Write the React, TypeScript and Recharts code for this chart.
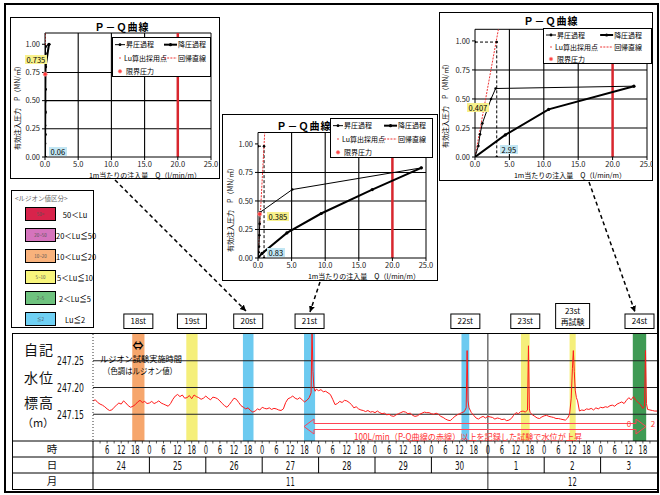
import React from "react";
import {
  LineChart, Line, XAxis, YAxis, ReferenceLine, ReferenceArea, ReferenceDot
} from "recharts";

const JP = '"Noto Sans CJK JP", "Noto Sans", sans-serif';
const NARROW = '"Liberation Sans Narrow", "DejaVu Sans Condensed", "Liberation Sans", sans-serif';

// ---- P-Q curves : [Q (l/min/m), P (MN/m2)] ----
const qTicks = [0, 5, 10, 15, 20, 25];
const pTicks = [0, 0.25, 0.5, 0.75, 1.0];

const st20Up = [[0, 0], [0.01, 0.12], [0.02, 0.2], [0.02, 0.28], [0.03, 0.39], [0.03, 0.49], [0.04, 0.6], [0.05, 0.8], [0.06, 0.92], [0.1, 0.98], [0.6, 1.0]];
const st20Down = [[0.6, 1.0], [0.08, 0.8], [0.05, 0.6], [0.04, 0.4], [0.02, 0.2], [0, 0]];
const st20Lu = [[0, 0.98], [0.06, 0.98], [0.06, 0]];
const st20Reg = [[0, 0], [0.07, 1.1]];
const st20Limit = [0.03, 0.735];

const st21Up = [[0, 0], [0.1, 0.05], [0.15, 0.1], [0.2, 0.2], [0.25, 0.3], [0.3, 0.4], [5.1, 0.6], [24.3, 0.79]];
const st21Down = [[24.3, 0.79], [17.0, 0.6], [9.4, 0.39], [4.3, 0.22], [0.6, 0.04], [0, 0]];
const st21Lu = [[0, 0.98], [0.9, 0.98], [0.9, 0]];
const st21Reg = [[0, 0], [1.0, 1.1]];
const st21Limit = [0.25, 0.385];

const st24Up = [[0, 0], [0.49, 0.095], [0.73, 0.195], [1.07, 0.29], [2.33, 0.5], [3.0, 0.59], [23.1, 0.61]];
const st24Down = [[23.1, 0.61], [10.7, 0.41], [4.4, 0.19], [0, 0]];
const st24Lu = [[0, 0.99], [3.16, 0.99], [3.16, 0]];
const st24Reg = [[0, 0], [3.4, 1.1]];
const st24Limit = [1.27, 0.407];

// ---- water level record : [hours from 11/24 0:00, level (m)] ----
const levelTrace = [
  [0, 247.175], [1, 247.177], [2, 247.172], [3, 247.169], [4, 247.167], [5, 247.164], [6, 247.160], [7, 247.157], [8, 247.158], [9, 247.163],
  [10, 247.167], [11, 247.171], [12, 247.169], [13, 247.175], [14, 247.171], [15, 247.166], [16, 247.163], [17, 247.165], [18, 247.168], [19, 247.173],
  [20, 247.176], [21, 247.172], [22, 247.174], [23, 247.170], [24, 247.171], [25, 247.174], [26, 247.170], [27, 247.172], [28, 247.175], [29, 247.171],
  [30, 247.169], [31, 247.167], [32, 247.165], [33, 247.170], [34, 247.178], [35, 247.184], [36, 247.187], [37, 247.183], [38, 247.186], [39, 247.180],
  [40, 247.181], [41, 247.185], [42, 247.179], [43, 247.186], [44, 247.183], [45, 247.181], [46, 247.178], [47, 247.180], [48, 247.184], [49, 247.180],
  [50, 247.177], [51, 247.182], [52, 247.181], [53, 247.179], [54, 247.175], [55, 247.170], [56, 247.166], [57, 247.163], [58, 247.168], [59, 247.174],
  [60, 247.180], [61, 247.178], [62, 247.172], [63, 247.166], [64, 247.163], [65, 247.160], [66, 247.162], [67, 247.157], [68, 247.154], [69, 247.156],
  [70, 247.160], [71, 247.158], [72, 247.163], [73, 247.161], [74, 247.160], [75, 247.162], [76, 247.159], [77, 247.161], [78, 247.160], [79, 247.158],
  [80, 247.157], [81, 247.160], [82, 247.172], [83, 247.179], [84, 247.181], [85, 247.184], [86, 247.180], [87, 247.178], [88, 247.181], [89, 247.177],
  [90, 247.173], [91, 247.176], [92, 247.181], [92.8, 247.190], [93.2, 247.310], [93.6, 247.230], [94, 247.200], [94.5, 247.193], [95, 247.197], [96, 247.194],
  [97, 247.196], [98, 247.192], [99, 247.193], [100, 247.190], [101, 247.187], [102, 247.178], [103, 247.168], [104, 247.170], [105, 247.174], [106, 247.172],
  [107, 247.176], [108, 247.175], [109, 247.172], [110, 247.168], [111, 247.162], [112, 247.164], [113, 247.160], [114, 247.158], [115, 247.157], [116, 247.155],
  [117, 247.157], [118, 247.154], [119, 247.155], [120, 247.153], [121, 247.156], [122, 247.153], [123, 247.151], [124, 247.152], [125, 247.149], [126, 247.150],
  [127, 247.147], [128, 247.146], [129, 247.149], [130, 247.151], [131, 247.153], [132, 247.155], [133, 247.154], [134, 247.151], [135, 247.152], [136, 247.148],
  [137, 247.146], [138, 247.147], [139, 247.150], [140, 247.152], [141, 247.154], [142, 247.153], [143, 247.153], [144, 247.151], [145, 247.150], [146, 247.152],
  [147, 247.150], [148, 247.146], [149, 247.144], [150, 247.141], [151, 247.139], [152, 247.138], [153, 247.142], [154, 247.146], [155, 247.149], [156, 247.151],
  [157, 247.153], [158, 247.155], [158.8, 247.162], [159.2, 247.269], [159.6, 247.175], [160, 247.162], [161, 247.153], [162, 247.148], [163, 247.143], [164, 247.141],
  [165, 247.144], [166, 247.146], [167, 247.143], [168, 247.146], [169, 247.145], [170, 247.144], [171, 247.141], [172, 247.143], [173, 247.142], [174, 247.140],
  [175, 247.141], [176, 247.138], [177, 247.139], [178, 247.142], [179, 247.148], [180, 247.153], [181, 247.151], [182, 247.155], [183, 247.156], [184, 247.154],
  [184.9, 247.158], [185.3, 247.278], [185.7, 247.160], [186, 247.153], [187, 247.149], [188, 247.146], [189, 247.143], [190, 247.142], [191, 247.145], [192, 247.147],
  [193, 247.148], [194, 247.146], [195, 247.145], [196, 247.144], [197, 247.142], [198, 247.142], [199, 247.141], [200, 247.140], [201, 247.139], [202, 247.143],
  [202.8, 247.150], [203.5, 247.180], [204, 247.235], [204.4, 247.269], [204.8, 247.230], [205.2, 247.195], [205.7, 247.181], [206.2, 247.175], [207, 247.156], [208, 247.158],
  [209, 247.157], [210, 247.160], [211, 247.159], [212, 247.161], [213, 247.158], [214, 247.162], [215, 247.160], [216, 247.163], [217, 247.162], [218, 247.164],
  [219, 247.163], [220, 247.166], [221, 247.167], [222, 247.165], [223, 247.169], [224, 247.171], [225, 247.173], [226, 247.170], [227, 247.176], [228, 247.181],
  [229, 247.177], [230, 247.183], [231, 247.176], [232, 247.172], [233, 247.168], [234, 247.161], [234.7, 247.165], [235.1, 247.269], [235.5, 247.170], [236, 247.159],
  [237, 247.158], [238, 247.157], [239, 247.156], [240, 247.156],
];
const levelTicks = [247.15, 247.2, 247.25];

// ---- Lugeon tests (time windows in hours from 11/24 0:00) ----
const tests = ["18st", "19st", "20st", "21st", "22st", "23st", "23st 再試験", "24st"];
const testFrom = [16.7, 39.7, 63.8, 89.8, 156.8, 182.1, 202.8, 229.7];
const testTo = [21.9, 44.5, 68.3, 94.5, 160.1, 185.8, 205.4, 235.4];
const testClass = [2, 3, 5, 5, 5, 3, 3, 4];

const luClasses = ["50＜Lu", "20＜Lu≦50", "10＜Lu≦20", "5＜Lu≦10", "2＜Lu≦5", "Lu≦2"];
const luTags = ["50<", "20~50", "10~20", "5~10", "2~5", "≦2"];
const luColors = ["#d8234b", "#d574bd", "#f9b27c", "#f8f57c", "#6ec27e", "#6fd0f4"];
const bandColors = ["#d8234b", "#d574bd", "#f6a66c", "#f5ef7a", "#3f9a54", "#6ccaf0"];

const days = ["24", "25", "26", "27", "28", "29", "30", "1", "2", "3"];
const months = ["11", "12"];
const monthEdges = [0, 168, 240];

const hourTicks = Array.from({ length: 79 }, (_, i) => 3 * (i + 1));
const dayTicks = days.flatMap((_, i) => (i === 0 ? [12] : [24 * i, 24 * i + 12]));
const monthTicks = [(monthEdges[0] + monthEdges[1]) / 2, monthEdges[1], (monthEdges[1] + monthEdges[2]) / 2];

const pts = (a: number[][]) => a.map(([q, p]) => ({ q, p }));
const levelData = levelTrace.map(([h, lv]) => ({ h, lv }));

const pqPanels = [
  {
    key: "20st", box: [10, 17, 220, 179], plot: [45, 33, 211, 157],
    up: st20Up, down: st20Down, lu: st20Lu, reg: st20Reg, limit: st20Limit,
    limitText: "0.735", luText: "0.06", limitAt: [25, 55], luAt: [49, 147],
    legend: [112, 37, 99, 40], title: [122, 27], xTitle: [145, 175], yTitle: [17, 106],
  },
  {
    key: "21st", box: [222, 114, 438, 281], plot: [258, 132.5, 426, 258],
    up: st21Up, down: st21Down, lu: st21Lu, reg: st21Reg, limit: st21Limit,
    limitText: "0.385", luText: "0.83", limitAt: [267, 212], luAt: [267, 248],
    legend: [330, 118, 103, 40], title: [304, 126], xTitle: [364, 276], yTitle: [230, 208],
  },
  {
    key: "24st", box: [439, 12, 653, 181], plot: [475, 29.3, 647, 157],
    up: st24Up, down: st24Down, lu: st24Lu, reg: st24Reg, limit: st24Limit,
    limitText: "0.407", luText: "2.95", limitAt: [467, 103], luAt: [500, 145],
    legend: [543, 28, 109, 36], title: [551, 21], xTitle: [570, 175], yTitle: [445, 104],
  },
];

function PQLegend({ box }: { box: number[] }) {
  const [l, t, w, h] = box;
  const r1 = h / 6, r2 = h / 2, r3 = (5 * h) / 6;
  const c2 = w * 0.515;
  const fs = 7;
  return (
    <svg width={w} height={h} style={{ position: "absolute", left: l, top: t, background: "#fff", border: "1px solid #000", boxSizing: "border-box" }}>
      <line x1={2} x2={12} y1={r1} y2={r1} stroke="#000" strokeWidth={1} />
      <circle cx={7} cy={r1} r={1.4} fill="#000" />
      <text x={13} y={r1 + 2.5} fontSize={fs} fontFamily={JP}>昇圧過程</text>
      <line x1={c2} x2={c2 + 13} y1={r1} y2={r1} stroke="#000" strokeWidth={2} />
      <circle cx={c2 + 6.5} cy={r1} r={1.6} fill="#000" />
      <text x={c2 + 14} y={r1 + 2.5} fontSize={fs} fontFamily={JP}>降圧過程</text>
      <circle cx={7} cy={r2} r={0.8} fill="#e33" />
      <text x={11} y={r2 + 2.5} fontSize={fs} fontFamily={JP}>Lu算出採用点</text>
      <line x1={c2} x2={c2 + 13} y1={r2} y2={r2} stroke="#e33" strokeWidth={1} strokeDasharray="2 1.2" />
      <text x={c2 + 14} y={r2 + 2.5} fontSize={fs} fontFamily={JP}>回帰直線</text>
      <circle cx={7} cy={r3} r={1.8} fill="#f44" stroke="#f99" strokeWidth={0.6} />
      <text x={13} y={r3 + 2.5} fontSize={fs} fontFamily={JP}>限界圧力</text>
    </svg>
  );
}

function PQPanel({ cfg }: { cfg: any }) {
  const [bl, bt, br, bb] = cfg.box;
  const [pl, pt, pr, pb] = cfg.plot;
  const w = br - bl, h = bb - bt;
  const tickStyle = { fontSize: 7.5, fontFamily: JP, fill: "#222" };
  return (
    <>
      <div style={{ position: "absolute", left: bl, top: bt, width: w, height: h, border: "1px solid #000", boxSizing: "border-box", background: "#fff" }} />
      <div style={{ position: "absolute", left: bl, top: bt }}>
        <LineChart width={w} height={h} margin={{ top: pt - bt, right: br - pr, left: 0, bottom: 0 }}>
          <XAxis dataKey="q" type="number" domain={[0, 25]} ticks={qTicks} allowDataOverflow interval={0}
            height={bb - pb} tickSize={3} tickMargin={2} tick={tickStyle} stroke="#000"
            tickFormatter={(v: number) => v.toFixed(1)} />
          <YAxis type="number" domain={[0, 1.1]} ticks={pTicks} allowDataOverflow interval={0}
            width={pl - bl} tickSize={3} tickMargin={2} tick={tickStyle} stroke="#000"
            tickFormatter={(v: number) => v.toFixed(2)} />
          {[5, 10, 15].map((x) => <ReferenceLine key={"x" + x} x={x} stroke="#000" strokeWidth={1.1} />)}
          {[0.25, 0.5, 0.75].map((y) => <ReferenceLine key={"y" + y} y={y} stroke="#000" strokeWidth={1.1} />)}
          <ReferenceLine x={25} stroke="#000" strokeWidth={1} />
          <ReferenceLine y={1.1} stroke="#000" strokeWidth={1} />
          <ReferenceLine x={20} stroke="#d8262e" strokeWidth={2.5} />
          <Line data={pts(cfg.lu)} dataKey="p" stroke="#000" strokeWidth={1} strokeDasharray="3 2" dot={{ r: 1.3, fill: "#000", stroke: "none" }} isAnimationActive={false} />
          <Line data={pts(cfg.reg)} dataKey="p" stroke="#e33" strokeWidth={1} strokeDasharray="2 1.2" dot={false} isAnimationActive={false} />
          <Line data={pts(cfg.up)} dataKey="p" stroke="#000" strokeWidth={1} dot={{ r: 1.3, fill: "#000", stroke: "none" }} isAnimationActive={false} />
          <Line data={pts(cfg.down)} dataKey="p" stroke="#000" strokeWidth={2} dot={{ r: 1.6, fill: "#000", stroke: "none" }} isAnimationActive={false} />
          <ReferenceDot x={cfg.limit[0]} y={cfg.limit[1]} r={2} fill="#f33" stroke="#f99" strokeWidth={0.8} />
        </LineChart>
      </div>
      <PQLegend box={cfg.legend} />
      <div style={{ position: "absolute", left: cfg.limitAt[0], top: cfg.limitAt[1], background: "#f8f18c", fontSize: 7.5, lineHeight: "9px", padding: "0 1.5px", fontFamily: JP }}>{cfg.limitText}</div>
      <div style={{ position: "absolute", left: cfg.luAt[0], top: cfg.luAt[1], background: "#c2e6f3", fontSize: 7.5, lineHeight: "9px", padding: "0 1.5px", fontFamily: JP }}>{cfg.luText}</div>
    </>
  );
}

function StationTag(props: any) {
  const { viewBox, tag } = props;
  if (!viewBox) return null;
  const cx = viewBox.x + viewBox.width / 2;
  const lines = String(tag).split(" ");
  const h = lines.length > 1 ? 25 : 14.5;
  const w = lines.length > 1 ? 34 : 29;
  const top = viewBox.y - 5.5 - h;
  return (
    <g>
      <rect x={cx - w / 2} y={top} width={w} height={h} fill="#fff" stroke="#000" strokeWidth={1} />
      {lines.map((t, i) => (
        <text key={i} x={cx} y={top + 10 + i * 11} textAnchor="middle" fontSize={8} fontFamily={JP}>{t}</text>
      ))}
    </g>
  );
}

// narrow numeric text, squeezed to mimic the condensed font of the original
function NarrowText({ x, y, s, anchor = "middle", size = 12, per = 4.3 }: any) {
  const str = String(s);
  return (
    <text x={x} y={y} textAnchor={anchor} fontSize={size} fontFamily={NARROW} fill="#111"
      textLength={str.length * per} lengthAdjust="spacingAndGlyphs">{str}</text>
  );
}

function HourTick({ x, y, payload }: any) {
  const v = payload.value;
  const hh = v % 24;
  return (
    <g>
      {v === monthEdges[1]
        ? <line x1={x} x2={x} y1={y} y2={y + 16} stroke="#777" strokeWidth={1.6} />
        : <line x1={x} x2={x} y1={y} y2={y + 2.5} stroke="#333" strokeWidth={0.8} />}
      {hh % 6 === 0 && <NarrowText x={x} y={y + 13} s={hh} />}
    </g>
  );
}

function DayTick({ x, y, payload }: any) {
  const v = payload.value;
  if (v % 24 === 0) {
    const isMonth = v === monthEdges[1];
    return <line x1={x} x2={x} y1={y} y2={y + 16} stroke={isMonth ? "#777" : "#000"} strokeWidth={isMonth ? 1.6 : 1} />;
  }
  return <NarrowText x={x} y={y + 12.5} s={days[(v - 12) / 24]} per={4.6} />;
}

function MonthTick({ x, y, payload }: any) {
  const v = payload.value;
  if (v === monthEdges[1]) return <line x1={x} x2={x} y1={y} y2={y + 16} stroke="#777" strokeWidth={1.6} />;
  return <NarrowText x={x} y={y + 12.5} s={months[v < monthEdges[1] ? 0 : 1]} per={4.3} />;
}

function LevelTick({ x, y, payload }: any) {
  return <NarrowText x={x} y={y + 4.5} s={payload.value.toFixed(2)} anchor="end" size={13} per={4.5} />;
}

function LevelChart() {
  const axisCommon = {
    type: "number" as const, dataKey: "h", domain: [0, 240], allowDataOverflow: true,
    height: 16, axisLine: false, tickLine: false, tickSize: 0, tickMargin: 0, interval: 0 as const,
  };
  return (
    <LineChart width={646} height={191} margin={{ top: 36, right: 1, left: 0, bottom: 0 }}>
      <XAxis xAxisId="a_hour" {...axisCommon} ticks={hourTicks} tick={<HourTick />} />
      <XAxis xAxisId="b_day" {...axisCommon} ticks={dayTicks} tick={<DayTick />} />
      <XAxis xAxisId="c_month" {...axisCommon} ticks={monthTicks} tick={<MonthTick />} />
      <YAxis type="number" domain={[247.1, 247.3]} ticks={levelTicks} allowDataOverflow interval={0}
        width={81} tickLine={false} tickMargin={3}
        axisLine={{ stroke: "#333", strokeDasharray: "1 2" }}
        tick={<LevelTick />} />
      {tests.map((t, i) => (
        <ReferenceArea key={t} xAxisId="a_hour" x1={testFrom[i]} x2={testTo[i]}
          fill={bandColors[testClass[i]]} fillOpacity={1} stroke="none"
          label={<StationTag tag={t} />} />
      ))}
      {levelTicks.map((v) => (
        <ReferenceLine key={v} xAxisId="a_hour" y={v} stroke="#222" strokeWidth={1.2} />
      ))}
      <ReferenceLine xAxisId="a_hour" x={monthEdges[1]} stroke="#777" strokeWidth={1.6} />
      <Line xAxisId="a_hour" data={levelData} dataKey="lv" type="linear" stroke="#ff1a1a"
        strokeWidth={1} dot={false} isAnimationActive={false} />
    </LineChart>
  );
}

export default function App() {
  return (
    <div style={{ position: "absolute", left: 0, top: 0, width: 660, height: 495, background: "#fff", overflow: "hidden", fontFamily: JP }}>
      <div style={{ position: "absolute", left: 4, top: 3, width: 655, height: 490, border: "2px solid #000", boxSizing: "border-box" }} />

      {pqPanels.map((p) => <PQPanel key={p.key} cfg={p} />)}

      {/* Lugeon class legend */}
      <div style={{ position: "absolute", left: 11, top: 190, width: 83, height: 138, border: "1px solid #000", boxSizing: "border-box", background: "#fff" }}>
        <div style={{ position: "absolute", left: 3, top: 2, fontSize: 6.5, color: "#666", whiteSpace: "nowrap" }}>&lt;ルジオン値区分&gt;</div>
        {luClasses.map((c, i) => (
          <React.Fragment key={c}>
            <div style={{ position: "absolute", left: 13, top: 16 + i * 21, width: 31, height: 14, background: luColors[i], border: "1px solid #000", boxSizing: "border-box", fontSize: 4.5, color: "#555", textAlign: "center", lineHeight: "12px" }}>{luTags[i]}</div>
            <div style={{ position: "absolute", left: 44, width: 38, top: 18 + i * 21, fontSize: 7.5, textAlign: "center", whiteSpace: "nowrap" }}>{c}</div>
          </React.Fragment>
        ))}
      </div>

      {/* main panel */}
      <div style={{ position: "absolute", left: 12, top: 333, width: 646, height: 157, border: "1.5px solid #000", boxSizing: "border-box" }} />
      <div style={{ position: "absolute", left: 12, top: 298 }}>
        <LevelChart />
      </div>

      <svg width={660} height={495} style={{ position: "absolute", left: 0, top: 0, pointerEvents: "none" }}>
        <defs>
          <marker id="ah" markerWidth={7} markerHeight={7} refX={6} refY={3} orient="auto" markerUnits="userSpaceOnUse">
            <path d="M0,0 L6,3 L0,6 z" fill="#000" />
          </marker>
        </defs>

        {pqPanels.map((p) => (
          <g key={p.key} fontFamily={JP}>
            <text x={p.title[0]} y={p.title[1] + 4} textAnchor="middle" fontSize={10} fontWeight={700} letterSpacing={1}>Ｐ－Ｑ曲線</text>
            <text x={p.xTitle[0]} y={p.xTitle[1] + 2.5} textAnchor="middle" fontSize={7}>1m当たりの注入量　Q（l/min/m）</text>
            <text transform={`translate(${p.yTitle[0]},${p.yTitle[1]}) rotate(-90)`} textAnchor="middle" dy={2.5} fontSize={7}>有効注入圧力　P（MN/㎡）</text>
          </g>
        ))}

        {/* connectors from P-Q panels to tests */}
        <line x1={115} y1={180} x2={246} y2={311} stroke="#000" strokeWidth={1.5} strokeDasharray="4 3" markerEnd="url(#ah)" />
        <line x1={320} y1={282} x2={310} y2={312} stroke="#000" strokeWidth={1.5} strokeDasharray="4 3" markerEnd="url(#ah)" />
        <line x1={589} y1={182} x2={635} y2={312} stroke="#000" strokeWidth={1.5} strokeDasharray="4 3" markerEnd="url(#ah)" />

        {/* table grid */}
        {[441, 457, 473].map((y) => <line key={y} x1={12} x2={657} y1={y} y2={y} stroke="#000" strokeWidth={1} />)}
        <line x1={93} x2={93} y1={441} y2={489} stroke="#000" strokeWidth={1} />

        <g fontFamily={JP} fill="#111">
          <text x={31} y={355} fontSize={14} textAnchor="middle">自</text>
          <text x={46} y={355} fontSize={14} textAnchor="middle">記</text>
          <text x={31} y={383} fontSize={14} textAnchor="middle">水</text>
          <text x={46} y={383} fontSize={14} textAnchor="middle">位</text>
          <text x={31} y={408} fontSize={14} textAnchor="middle">標</text>
          <text x={46} y={408} fontSize={14} textAnchor="middle">高</text>
          <text x={38} y={427} fontSize={11} textAnchor="middle">（m）</text>
          <text x={52} y={453} fontSize={10.5} textAnchor="middle">時</text>
          <text x={52} y={469} fontSize={10.5} textAnchor="middle">日</text>
          <text x={52} y={485} fontSize={10.5} textAnchor="middle">月</text>
        </g>

        {/* test-time note */}
        <text x={138} y={350} fontSize={11} fontWeight={700} textAnchor="middle" fontFamily={JP}>⇔</text>
        <text x={141} y={362} fontSize={8.5} textAnchor="middle" fontFamily={JP} textLength={82} lengthAdjust="spacingAndGlyphs">ルジオン試験実施時間</text>
        <text x={140} y={374} fontSize={8.5} textAnchor="middle" fontFamily={JP} textLength={74} lengthAdjust="spacingAndGlyphs">（色調はルジオン値）</text>

        {/* hollow double arrow + note */}
        <path d="M304,426.5 L314,419 L314,423.5 L636,423.5 L636,419 L646,426.5 L636,434 L636,429.5 L314,429.5 L314,434 Z"
          fill="none" stroke="#f45" strokeWidth={1} />
        <text x={629} y={427} fontSize={8} fill="#f33" textAnchor="middle" fontFamily={JP}>0</text>
        <text x={653} y={427} fontSize={8} fill="#f33" textAnchor="middle" fontFamily={JP}>2</text>
        <text x={468} y={440} fontSize={8.5} fill="#f33" textAnchor="middle" fontFamily={JP} textLength={228} lengthAdjust="spacingAndGlyphs">100L/min（P-Q曲線の赤線）以上を記録した試験で水位が上昇</text>
      </svg>
    </div>
  );
}
